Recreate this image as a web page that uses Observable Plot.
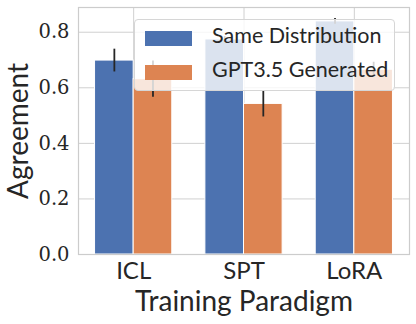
<!DOCTYPE html>
<html>
<head>
<meta charset="utf-8">
<script src="https://cdn.jsdelivr.net/npm/d3@7"></script>
<script src="https://cdn.jsdelivr.net/npm/@observablehq/plot@0.6"></script>
<style>
  html, body { margin: 0; padding: 0; background: #fff; }
  #wrap { position: relative; width: 416px; height: 324px; }
  #legend { position: absolute; left: 134px; top: 19px; width: 261px; height: 72px;
    background: rgba(255,255,255,0.8); border: 1px solid #d6d6d6; border-radius: 4px; box-sizing: border-box; }
  .item { position: absolute; left: 10px; height: 16px; display: flex; align-items: center; }
  .sw { width: 47px; height: 15px; }
  .lab { position: absolute; left: 67px; top: -8px; white-space: nowrap; font-family: Lato, sans-serif; font-size: 21.5px; color: #262626; }
  svg text.serifTick { font-family: "DejaVu Serif", serif !important; }
</style>
</head>
<body>
<div id="wrap"><div id="legend"></div></div>
<script>
const categories = ["ICL", "SPT", "LoRA"];
const seriesNames = ["Same Distribution", "GPT3.5 Generated"];
const colors = ["#4c72b0", "#dd8452"];
const sameDist = [0.698, 0.774, 0.839];
const sameDistErr = [0.041, 0.010, 0.010];
const gpt35 = [0.631, 0.542, 0.665];
const gpt35Err = [0.065, 0.047, 0.027];
const yTicks = [0, 0.2, 0.4, 0.6, 0.8];

const barW = 0.35;
const rows = [];
categories.forEach((c, i) => {
  rows.push({i, s: 0, v: sameDist[i], e: sameDistErr[i]});
  rows.push({i, s: 1, v: gpt35[i], e: gpt35Err[i]});
});
const x1 = d => d.i - barW + d.s * barW;
const ink = "#262626";
const serif = "DejaVu Serif";

const chart = Plot.plot({
  width: 416, height: 324,
  marginLeft: 78, marginRight: 7, marginTop: 7, marginBottom: 70,
  x: {type: "linear", domain: [-0.5, 2.5]},
  y: {domain: [0, 0.889]},
  style: {color: ink, background: "#fff"},
  marks: [
    Plot.gridY(yTicks, {stroke: "#d0d0d0", strokeOpacity: 1, strokeWidth: 1}),
    Plot.gridX([0, 1, 2], {stroke: "#d0d0d0", strokeOpacity: 1, strokeWidth: 1}),
    Plot.rectY(rows, {x1, x2: d => x1(d) + barW, y1: 0, y2: "v", fill: d => colors[d.s], stroke: "#fff", strokeWidth: 1}),
    Plot.ruleX(rows, {x: d => x1(d) + barW / 2, y1: d => d.v - d.e, y2: d => d.v + d.e, stroke: "#262626", strokeWidth: 1.8}),
    Plot.frame({stroke: "#cccccc", strokeWidth: 1.2}),
    Plot.axisY(yTicks, {tickSize: 0, tickPadding: 9, tickFormat: d3.format(".1f"), label: null,
      fontSize: 19.5, fontFamily: serif, fill: ink}),
    Plot.axisY([], {label: "Agreement", labelArrow: "none", labelAnchor: "center", labelOffset: 70, fontSize: 28, fontFamily: "Lato, sans-serif", fill: ink}),
    Plot.axisX([0, 1, 2], {tickSize: 0, tickPadding: 7, tickFormat: i => categories[i], label: null,
      fontSize: 24, fontFamily: "Lato, sans-serif", fill: ink}),
    Plot.axisX([], {label: "Training Paradigm", labelArrow: "none", labelAnchor: "center", labelOffset: 56, fontSize: 28, fontFamily: "Lato, sans-serif", fill: ink})
  ]
});
const tickLabels = new Set(yTicks.map(d3.format(".1f")));
d3.select(chart).selectAll("text").each(function() {
  if (tickLabels.has(this.textContent.trim())) {
    this.setAttribute("class", "serifTick");
    this.setAttribute("font-family", serif);
  }
});
document.getElementById("wrap").prepend(chart);

const leg = document.getElementById("legend");
seriesNames.forEach((name, k) => {
  const it = document.createElement("div");
  it.className = "item";
  it.style.top = (k === 0 ? 10 : 44) + "px";
  it.innerHTML = `<div class="sw" style="background:${colors[k]}"></div><span class="lab">${name}</span>`;
  leg.appendChild(it);
});
</script>
</body>
</html>
